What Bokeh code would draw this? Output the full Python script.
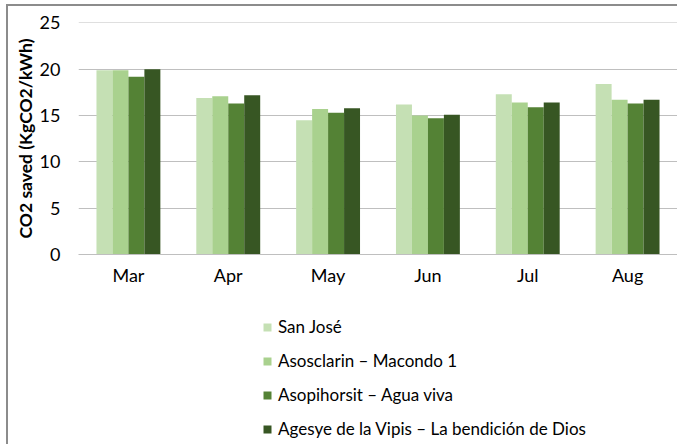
from bokeh.plotting import figure
from bokeh.models import Legend, LegendItem, Range1d, FactorRange
from bokeh.layouts import column
from bokeh.transform import dodge
from bokeh.embed import file_html
from bokeh.resources import INLINE

months = ["Mar", "Apr", "May", "Jun", "Jul", "Aug"]
series_names = [
    "San José",
    "Asosclarin – Macondo 1",
    "Asopihorsit – Agua viva",
    "Agesye de la Vipis – La bendición de Dios",
]
san_jose = [19.9, 16.9, 14.5, 16.2, 17.3, 18.4]
asosclarin = [19.9, 17.1, 15.7, 15.0, 16.4, 16.7]
asopihorsit = [19.2, 16.3, 15.3, 14.7, 15.9, 16.3]
agesye = [20.0, 17.2, 15.8, 15.1, 16.4, 16.7]
colors = ["#C5E0B4", "#A9D18E", "#548235", "#375623"]
y_ticks = [0, 5, 10, 15, 20, 25]

FONT = "Lato"

p = figure(
    x_range=FactorRange(*months, range_padding=0),
    y_range=Range1d(0, 25.05),
    width=671, height=294,
    output_backend="svg", toolbar_location=None,
    min_border_left=70, min_border_right=2, min_border_top=16, min_border_bottom=46,
)
p.styles = {"border-top": "2px solid #8c8c8c", "border-left": "2px solid #8c8c8c"}

data = dict(month=months, s0=san_jose, s1=asosclarin, s2=asopihorsit, s3=agesye)
offsets = [-0.24, -0.08, 0.08, 0.24]
for i, key in enumerate(["s0", "s1", "s2", "s3"]):
    p.vbar(x=dodge("month", offsets[i], range=p.x_range), top=key, width=0.16,
           source=data, fill_color=colors[i], line_color=None)

p.outline_line_color = None
p.xgrid.grid_line_color = None
p.ygrid.grid_line_color = "#BFBFBF"
p.ygrid.grid_line_width = 1.2
p.yaxis.ticker = y_ticks
p.yaxis.axis_line_color = None
p.yaxis.major_tick_line_color = None
p.yaxis.minor_tick_line_color = None
p.yaxis.major_label_text_font = FONT
p.yaxis.major_label_text_font_size = "18px"
p.yaxis.major_label_text_color = "#000000"
p.yaxis.major_label_standoff = 12
p.yaxis.axis_label = "CO2 saved (KgCO2/kWh)"
p.yaxis.axis_label_text_font = FONT
p.yaxis.axis_label_text_font_style = "bold"
p.yaxis.axis_label_text_font_size = "17.5px"
p.yaxis.axis_label_text_color = "#000000"
p.yaxis.axis_label_standoff = 1

p.xaxis.axis_line_color = "#BFBFBF"
p.xaxis.axis_line_width = 1.2
p.xaxis.major_tick_line_color = None
p.xaxis.minor_tick_line_color = None
p.xaxis.major_label_text_font = FONT
p.xaxis.major_label_text_font_size = "18px"
p.xaxis.major_label_text_color = "#000000"
p.xaxis.major_label_standoff = 3

# legend panel
p2 = figure(width=671, height=146, x_range=Range1d(0, 1), y_range=Range1d(0, 1),
            output_backend="svg", toolbar_location=None,
            x_axis_type=None, y_axis_type=None,
            min_border=0, min_border_left=0, min_border_right=0,
            min_border_top=0, min_border_bottom=0)
p2.styles = {"border-left": "2px solid #8c8c8c"}
p2.outline_line_color = None
p2.grid.grid_line_color = None
dummies = []
for i in range(4):
    r = p2.vbar(x=[5], top=[5], bottom=[4], width=0.1, fill_color=colors[i], line_color=None)
    dummies.append(r)
items = [LegendItem(label=series_names[i], renderers=[dummies[i]]) for i in range(4)]
legend = Legend(items=items, location=(184, 5), orientation="vertical",
                glyph_width=10, glyph_height=10, label_height=20, spacing=13,
                padding=0, margin=0, border_line_color=None, background_fill_alpha=0,
                label_text_font=FONT, label_text_font_size="17px",
                label_text_color="#000000", label_standoff=6)
p2.add_layout(legend, "center")

layout = column(p, p2, spacing=0, margin=(4, 0, 0, 6))
open("out.html", "w").write(file_html(layout, INLINE))
